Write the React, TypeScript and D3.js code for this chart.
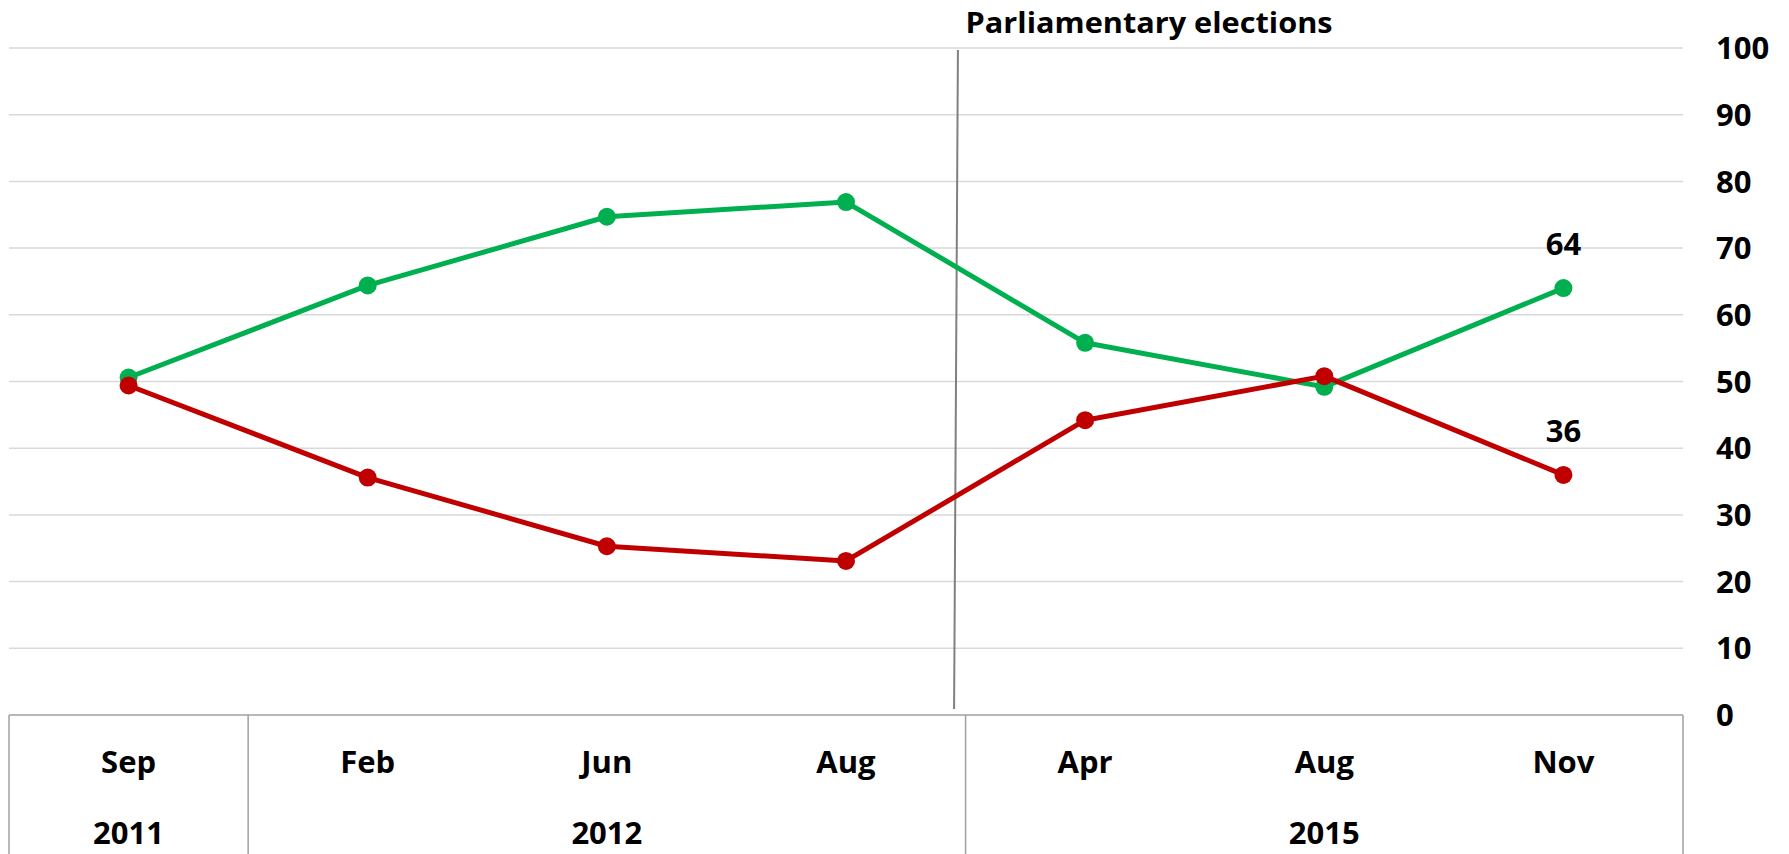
import React from "react";
import * as d3 from "d3";

const months = ["Sep", "Feb", "Jun", "Aug", "Apr", "Aug", "Nov"];
const yearGroups = [
  { year: "2011", start: 0, end: 0 },
  { year: "2012", start: 1, end: 3 },
  { year: "2015", start: 4, end: 6 },
];
const greenValues = [50.6, 64.4, 74.7, 76.9, 55.8, 49.2, 64];
const redValues = [49.4, 35.6, 25.3, 23.1, 44.2, 50.8, 36];
const yTicks = [0, 10, 20, 30, 40, 50, 60, 70, 80, 90, 100];
const annotationText = "Parliamentary elections";

const W = 1789;
const H = 854;
const GREEN = "#00B050";
const RED = "#C00000";
const FONT = "'Open Sans', 'DejaVu Sans', sans-serif";

export default function App() {
  const left = 9;
  const right = 1683;
  const y0 = 715;
  const y100 = 48;

  const x = d3
    .scaleBand<number>()
    .domain(d3.range(months.length))
    .range([left, right]);
  const bw = x.bandwidth();
  const cx = (i: number) => (x(i) as number) + bw / 2;
  const y = d3.scaleLinear().domain([0, 100]).range([y0, y100]);

  const line = d3
    .line<number>()
    .x((_, i) => cx(i))
    .y((d) => y(d));

  const series = [
    { values: greenValues, color: GREEN, labelLast: true },
    { values: redValues, color: RED, labelLast: true },
  ];

  // election marker between Aug 2012 (index 3) and Apr 2015 (index 4)
  const elTopX = cx(3) + bw * 0.468;
  const elBotX = cx(3) + bw * 0.452;

  return (
    <svg
      width={W}
      height={H}
      style={{ position: "absolute", left: 0, top: 0, background: "#fff" }}
      fontFamily={FONT}
    >
      {/* gridlines */}
      {yTicks
        .filter((t) => t > 0)
        .map((t) => (
          <line
            key={"g" + t}
            x1={left}
            x2={right}
            y1={y(t)}
            y2={y(t)}
            stroke="#d9d9d9"
            strokeWidth={1.5}
          />
        ))}

      {/* y tick labels on the right */}
      {yTicks.map((t) => (
        <text
          key={"t" + t}
          x={1716}
          y={y(t)}
          dy="0.36em"
          fontSize={31}
          fontWeight={700}
          fill="#000"
        >
          {t}
        </text>
      ))}

      {/* table box */}
      <line x1={left} x2={right} y1={y0} y2={y0} stroke="#a0a0a0" strokeWidth={1.5} />
      <line x1={left} x2={left} y1={y0} y2={H + 5} stroke="#a0a0a0" strokeWidth={1.5} />
      <line x1={right} x2={right} y1={y0} y2={H + 5} stroke="#a0a0a0" strokeWidth={1.5} />
      {yearGroups.slice(1).map((g) => (
        <line
          key={"sep" + g.year}
          x1={x(g.start) as number}
          x2={x(g.start) as number}
          y1={y0}
          y2={H + 5}
          stroke="#a0a0a0"
          strokeWidth={1.5}
        />
      ))}

      {/* month labels */}
      {months.map((m, i) => (
        <text
          key={"m" + i}
          x={cx(i)}
          y={773}
          textAnchor="middle"
          fontSize={31}
          fontWeight={700}
          fill="#000"
        >
          {m}
        </text>
      ))}
      {/* year labels */}
      {yearGroups.map((g) => (
        <text
          key={"y" + g.year}
          x={cx(Math.round((g.start + g.end) / 2))}
          y={844}
          textAnchor="middle"
          fontSize={31}
          fontWeight={700}
          fill="#000"
        >
          {g.year}
        </text>
      ))}

      {/* election marker */}
      <line
        x1={elTopX}
        x2={elBotX}
        y1={y100 + 2}
        y2={y0 - 6}
        stroke="#808080"
        strokeWidth={2}
      />
      <text
        x={x(4) as number}
        y={33}
        fontSize={29}
        fontWeight={700}
        fill="#000"
        textLength={367}
        lengthAdjust="spacingAndGlyphs"
      >
        {annotationText}
      </text>

      {/* series */}
      {series.map((s, si) => (
        <g key={"s" + si}>
          <path
            d={line(s.values) || ""}
            fill="none"
            stroke={s.color}
            strokeWidth={5}
            strokeLinejoin="round"
          />
          {s.values.map((v, i) => (
            <circle key={i} cx={cx(i)} cy={y(v)} r={9} fill={s.color} />
          ))}
          {s.labelLast && (
            <text
              x={cx(s.values.length - 1)}
              y={y(s.values[s.values.length - 1]) - 33}
              textAnchor="middle"
              fontSize={31}
              fontWeight={700}
              fill="#000"
            >
              {Math.round(s.values[s.values.length - 1])}
            </text>
          )}
        </g>
      ))}
    </svg>
  );
}
